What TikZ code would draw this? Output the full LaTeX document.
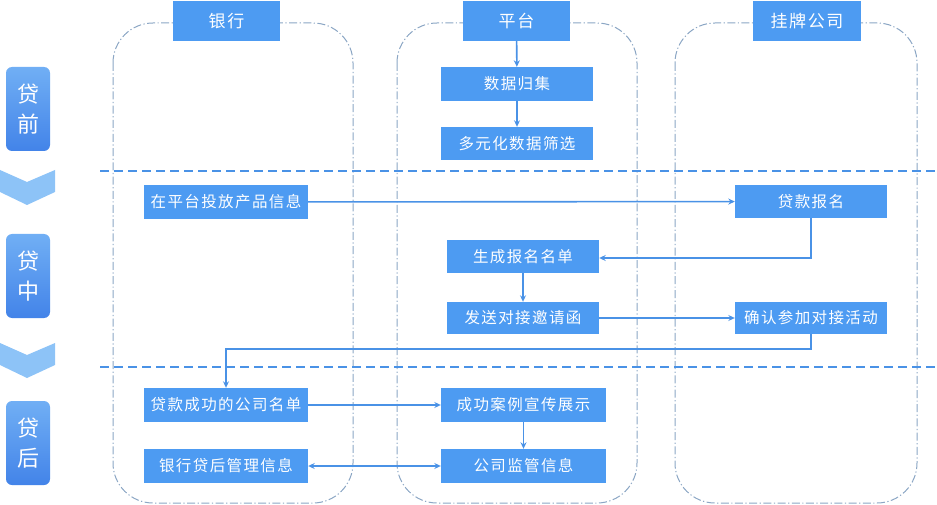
\documentclass[tikz,border=0pt]{standalone}
\usepackage{fontspec}
\usetikzlibrary{arrows.meta}
\setmainfont{Noto Sans CJK SC}
\newfontfamily\boxfont[LetterSpace=9]{Noto Sans CJK SC}
\definecolor{boxblue}{HTML}{4D9BF2}
\definecolor{lineblue}{HTML}{4A92E6}
\definecolor{lanegray}{HTML}{8BA6C4}
\definecolor{chevblue}{HTML}{8DC3F7}
\tikzset{
  flowbox/.style={draw=none,fill=boxblue,text=white,minimum width=152pt,minimum height=33pt,inner sep=0pt,font=\boxfont\fontsize{15.5}{18}\selectfont},
  headbox/.style={flowbox,minimum width=107pt,minimum height=40pt,font=\boxfont\fontsize{17}{20}\selectfont},
  phasebox/.style={rounded corners=6pt,top color=boxblue!80!white,bottom color=lineblue!90!blue,text=white,minimum width=44pt,minimum height=84pt,inner sep=0pt,align=center,font=\fontsize{22}{30}\selectfont},
  lane/.style={draw=lanegray,line width=1pt,dash pattern=on 8pt off 2.5pt on 1.2pt off 2.5pt,rounded corners=40pt},
  sep/.style={draw=lineblue,line width=2.5pt,dash pattern=on 9pt off 5pt},
  flow/.style={draw=lineblue,line width=1.6pt,->}
}
\begin{document}
\begin{tikzpicture}[>={Stealth[length=6.5pt,width=6pt]}, x=1pt, y=-1pt]
  \useasboundingbox (0,0) rectangle (937,505);
  % swim lanes
  \draw[lane] (113,23) rectangle (353,503);
  \draw[lane] (397,23) rectangle (637,503);
  \draw[lane] (675,23) rectangle (917,503);
  \draw[sep] (100,171) -- (937,171);
  \draw[sep] (100,367) -- (937,367);
  % phases
  \node[phasebox] (pre) at (28,109) {贷\\前};
  \node[phasebox] (mid) at (28,276) {贷\\中};
  \node[phasebox] (post) at (28,443) {贷\\后};
  \fill[chevblue] (0,170) -- (27,182) -- (55,170) -- (55,192) -- (27,205) -- (0,192) -- cycle;
  \fill[chevblue] (0,343) -- (27,355) -- (55,343) -- (55,365) -- (27,378) -- (0,365) -- cycle;
  % headers
  \node[headbox] (bank) at (226.5,21) {银行};
  \node[headbox] (plat) at (516.5,21) {平台};
  \node[headbox,minimum width=108pt] (comp) at (807,21) {挂牌公司};
  % boxes
  \node[flowbox,minimum height=34pt] (collect) at (517,84) {数据归集};
  \node[flowbox] (filter) at (517,143.5) {多元化数据筛选};
  \node[flowbox,minimum width=164pt,minimum height=34pt] (publish) at (226,202) {在平台投放产品信息};
  \node[flowbox] (signup) at (811,201.5) {贷款报名};
  \node[flowbox] (roster) at (523,256.5) {生成报名名单};
  \node[flowbox,minimum height=32pt] (invite) at (523,318) {发送对接邀请函};
  \node[flowbox,minimum height=32pt] (confirm) at (811,318) {确认参加对接活动};
  \node[flowbox,minimum width=164pt,minimum height=34pt] (success) at (226,405) {贷款成功的公司名单};
  \node[flowbox,minimum width=165pt,minimum height=34pt] (show) at (523.5,405) {成功案例宣传展示};
  \node[flowbox,minimum width=164pt,minimum height=34pt] (bankinfo) at (226,466) {银行贷后管理信息};
  \node[flowbox,minimum width=165pt,minimum height=34pt] (supervise) at (523.5,466) {公司监管信息};
  % arrows
  \draw[flow] (plat) -- (collect);
  \draw[flow] (collect) -- (filter);
  \draw[flow] (publish) -- (signup);
  \draw[flow] (signup.south) |- ([yshift=-1.5pt]roster.east);
  \draw[flow] (roster) -- (invite);
  \draw[flow] (invite) -- (confirm);
  \draw[flow] (confirm.south) -- ([yshift=-15pt]confirm.south) -| (success.north);
  \draw[flow] (success) -- (show);
  \draw[flow] (show) -- (supervise);
  \draw[flow,<->] (bankinfo) -- (supervise);
\end{tikzpicture}
\end{document}
